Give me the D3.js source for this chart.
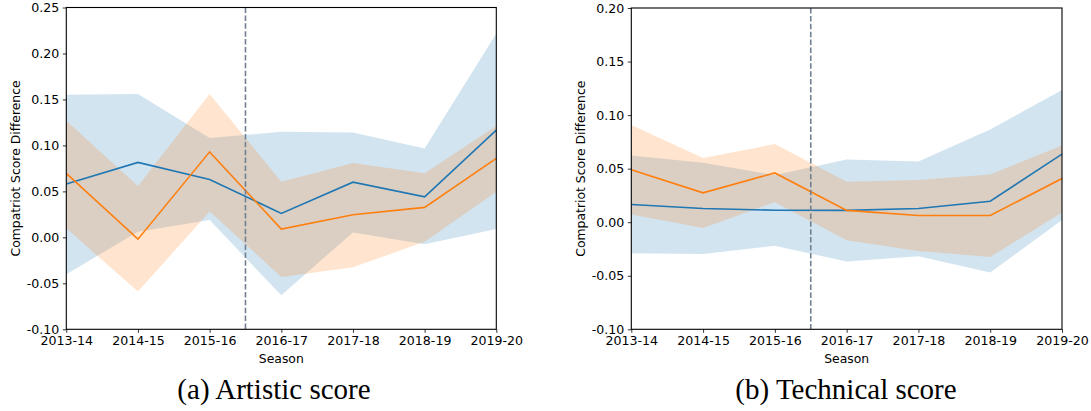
<!DOCTYPE html>
<html>
<head>
<meta charset="utf-8">
<script src="https://cdn.jsdelivr.net/npm/d3@7"></script>
<style>
  html, body { margin: 0; padding: 0; background: #fff; }
  svg { display: block; }
  .tick text { font-family: "DejaVu Sans", sans-serif; font-size: 12.6px; fill: #000; }
  .axlabel { font-family: "DejaVu Sans", sans-serif; font-size: 12.4px; fill: #000; }
  .caption { font-family: "Liberation Serif", "DejaVu Serif", serif; font-size: 29px; fill: #000; }
</style>
</head>
<body>
<svg id="chart" width="1091" height="411"></svg>
<script>
// ---------------- data ----------------
const seasons = ["2013-14", "2014-15", "2015-16", "2016-17", "2017-18", "2018-19", "2019-20"];
const ruleChangeAt = 2.5; // between 2015-16 and 2016-17

// (a) Artistic score
const artisticBlue      = [0.058, 0.0815, 0.063, 0.026, 0.060, 0.044, 0.1166];
const artisticBlueLow   = [-0.040, 0.006, 0.0188, -0.063, 0.0054, -0.0075, 0.009];
const artisticBlueHigh  = [0.155, 0.156, 0.108, 0.1148, 0.114, 0.0967, 0.2217];
const artisticOrange     = [0.0696, -0.002, 0.093, 0.009, 0.0246, 0.0326, 0.086];
const artisticOrangeLow  = [0.0098, -0.059, 0.028, -0.043, -0.0326, -0.0048, 0.0496];
const artisticOrangeHigh = [0.1268, 0.0558, 0.1558, 0.0605, 0.081, 0.0696, 0.121];
const artisticTicks = [-0.10, -0.05, 0.00, 0.05, 0.10, 0.15, 0.20, 0.25];

// (b) Technical score
const technicalBlue      = [0.0165, 0.0128, 0.0112, 0.011, 0.0128, 0.0196, 0.0636];
const technicalBlueLow   = [-0.029, -0.0296, -0.022, -0.0367, -0.0318, -0.047, 0.002];
const technicalBlueHigh  = [0.0623, 0.0555, 0.044, 0.0586, 0.0567, 0.0866, 0.1234];
const technicalOrange     = [0.049, 0.0274, 0.046, 0.011, 0.0062, 0.0062, 0.0408];
const technicalOrangeLow  = [0.0072, -0.0053, 0.0187, -0.0168, -0.0268, -0.0324, 0.009];
const technicalOrangeHigh = [0.0907, 0.060, 0.0729, 0.0377, 0.0393, 0.0446, 0.0717];
const technicalTicks = [-0.10, -0.05, 0.00, 0.05, 0.10, 0.15, 0.20];

const captions = ["(a) Artistic score", "(b) Technical score"];
const xLabel = "Season";
const yLabel = "Compatriot Score Difference";

// ---------------- drawing ----------------
const BLUE = "#1f77b4", ORANGE = "#ff7f0e";
const svg = d3.select("#chart");

function panel(opts) {
  const { left, right, top, bottom, yTicks, blue, blueLow, blueHigh, orange, orangeLow, orangeHigh,
          caption, captionX, yLabelX } = opts;
  const g = svg.append("g");
  const x = d3.scaleLinear().domain([0, seasons.length - 1]).range([left, right]);
  const y = d3.scaleLinear().domain([yTicks[0], yTicks[yTicks.length - 1]]).range([bottom, top]);
  const idx = d3.range(seasons.length);

  const band = (lo, hi) => d3.area().x(i => x(i)).y0(i => y(lo[i])).y1(i => y(hi[i]));
  const line = v => d3.line().x(i => x(i)).y(i => y(v[i]));

  const clipId = "clip" + Math.round(left);
  svg.append("clipPath").attr("id", clipId).append("rect")
    .attr("x", left).attr("y", top).attr("width", right - left).attr("height", bottom - top);
  const plot = g.append("g").attr("clip-path", `url(#${clipId})`);

  plot.append("path").attr("d", band(blueLow, blueHigh)(idx)).attr("fill", BLUE).attr("fill-opacity", 0.2);
  plot.append("path").attr("d", band(orangeLow, orangeHigh)(idx)).attr("fill", ORANGE).attr("fill-opacity", 0.2);
  plot.append("path").attr("d", line(blue)(idx)).attr("fill", "none").attr("stroke", BLUE).attr("stroke-width", 1.6);
  plot.append("path").attr("d", line(orange)(idx)).attr("fill", "none").attr("stroke", ORANGE).attr("stroke-width", 1.6);
  plot.append("line").attr("x1", x(ruleChangeAt)).attr("x2", x(ruleChangeAt)).attr("y1", top).attr("y2", bottom)
    .attr("stroke", "#708090").attr("stroke-width", 1.6).attr("stroke-dasharray", "5.5,2.4");

  // axes
  const xAxis = d3.axisBottom(x).tickValues(idx).tickFormat(i => seasons[i]).tickSize(3.5).tickPadding(3.5);
  const yAxis = d3.axisLeft(y).tickValues(yTicks).tickFormat(d3.format(".2f")).tickSize(3.5).tickPadding(3.5);
  const gx = g.append("g").attr("transform", `translate(0,${bottom})`).call(xAxis);
  const gy = g.append("g").attr("transform", `translate(${left},0)`).call(yAxis);
  [gx, gy].forEach(a => { a.select(".domain").remove(); a.selectAll(".tick line").attr("stroke", "#000").attr("stroke-width", 0.8); });
  gy.selectAll(".tick text").text(d => d3.format(".2f")(d).replace("−", "-"));

  // frame
  g.append("rect").attr("x", left).attr("y", top).attr("width", right - left).attr("height", bottom - top)
    .attr("fill", "none").attr("stroke", "#000").attr("stroke-width", 1.1);

  g.append("text").attr("class", "axlabel").attr("x", (left + right) / 2).attr("y", bottom + 34)
    .attr("text-anchor", "middle").text(xLabel);
  g.append("text").attr("class", "axlabel")
    .attr("transform", `translate(${yLabelX},${(top + bottom) / 2}) rotate(-90)`)
    .attr("text-anchor", "middle").attr("dy", "0.35em").text(yLabel);
  g.append("text").attr("class", "caption").attr("x", captionX).attr("y", 399)
    .attr("text-anchor", "middle").text(caption);
}

panel({ left: 66.3, right: 496.3, top: 7.5, bottom: 329.3, yTicks: artisticTicks,
  blue: artisticBlue, blueLow: artisticBlueLow, blueHigh: artisticBlueHigh,
  orange: artisticOrange, orangeLow: artisticOrangeLow, orangeHigh: artisticOrangeHigh,
  caption: captions[0], captionX: 274, yLabelX: 16 });

panel({ left: 631.3, right: 1062, top: 8, bottom: 329.3, yTicks: technicalTicks,
  blue: technicalBlue, blueLow: technicalBlueLow, blueHigh: technicalBlueHigh,
  orange: technicalOrange, orangeLow: technicalOrangeLow, orangeHigh: technicalOrangeHigh,
  caption: captions[1], captionX: 846, yLabelX: 581 });
</script>
</body>
</html>
